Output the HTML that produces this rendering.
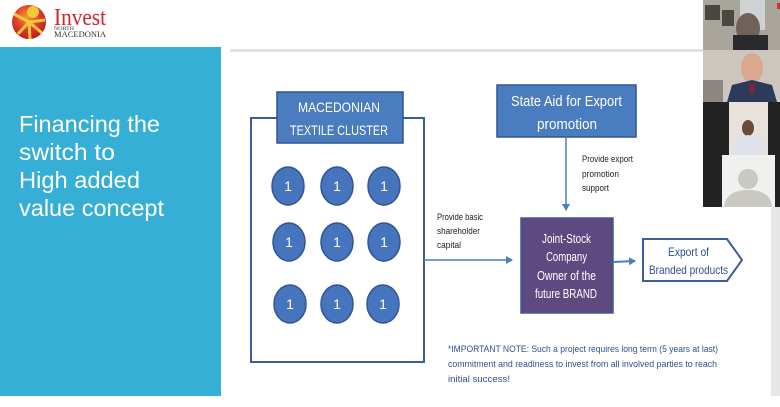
<!DOCTYPE html>
<html><head><meta charset="utf-8"><style>
html,body{margin:0;padding:0;}
body{width:780px;height:407px;position:relative;overflow:hidden;background:#fff;font-family:"Liberation Sans",sans-serif;}
.abs{position:absolute;}
</style></head><body>
<svg class="abs" style="left:0;top:0" width="780" height="407" viewBox="0 0 780 407">
  <defs>
    <radialGradient id="ball" cx="0.45" cy="0.35" r="0.7">
      <stop offset="0" stop-color="#f0a030"/>
      <stop offset="0.5" stop-color="#e0402a"/>
      <stop offset="1" stop-color="#b5171e"/>
    </radialGradient>
    <marker id="ah" markerWidth="8" markerHeight="8" refX="6" refY="4" orient="auto" markerUnits="userSpaceOnUse">
      <path d="M0,0 L7,4 L0,8 z" fill="#4a7cc0"/>
    </marker>
  </defs>
  <!-- logo -->
  <circle cx="29" cy="22" r="17" fill="url(#ball)"/>
  <path d="M29,22 L14,14 M29,22 L18,34 M29,22 L30,39 M29,22 L42,33 M29,22 L45,20" stroke="#f5c542" stroke-width="3"/>
  <circle cx="33" cy="12" r="6" fill="#f3c93a"/>
  <text x="54" y="25" font-family="Liberation Serif,serif" font-size="24" fill="#d2232a" textLength="52" lengthAdjust="spacingAndGlyphs">Invest</text>
  <text x="54" y="30" font-family="Liberation Serif,serif" font-size="5.5" fill="#333" textLength="20" lengthAdjust="spacingAndGlyphs">NORTH</text>
  <text x="54" y="37" font-family="Liberation Serif,serif" font-size="8" fill="#333" textLength="52" lengthAdjust="spacingAndGlyphs">MACEDONIA</text>

  <!-- left blue panel -->
  <rect x="0" y="47" width="221" height="349" fill="#36afd6"/>
  <g font-family="Liberation Sans,sans-serif" font-size="23" fill="#fff">
    <text x="19" y="132" textLength="141" lengthAdjust="spacingAndGlyphs">Financing the</text>
    <text x="19" y="160" textLength="96" lengthAdjust="spacingAndGlyphs">switch to</text>
    <text x="19" y="188" textLength="121" lengthAdjust="spacingAndGlyphs">High added</text>
    <text x="19" y="216" textLength="145" lengthAdjust="spacingAndGlyphs">value concept</text>
  </g>

  <!-- top gray line -->
  <rect x="230" y="49" width="475" height="3" fill="#e2e2e2"/>

  <!-- cluster box -->
  <rect x="251" y="118" width="173" height="244" fill="#fff" stroke="#3e5e99" stroke-width="2"/>
  <rect x="277" y="92" width="126" height="51" fill="#4a7cc0" stroke="#2f5597" stroke-width="1.5"/>
  <g font-family="Liberation Sans,sans-serif" font-size="14" fill="#fff">
    <text x="298" y="112" textLength="82" lengthAdjust="spacingAndGlyphs">MACEDONIAN</text>
    <text x="290" y="135" textLength="98" lengthAdjust="spacingAndGlyphs">TEXTILE CLUSTER</text>
  </g>
  <!-- circles -->
  <g fill="#4674bd" stroke="#2f5597" stroke-width="1.5">
    <ellipse cx="288" cy="186" rx="16" ry="19"/><ellipse cx="337" cy="186" rx="16" ry="19"/><ellipse cx="384" cy="186" rx="16" ry="19"/>
    <ellipse cx="289" cy="242" rx="16" ry="19"/><ellipse cx="337" cy="242" rx="16" ry="19"/><ellipse cx="384" cy="242" rx="16" ry="19"/>
    <ellipse cx="290" cy="304" rx="16" ry="19"/><ellipse cx="337" cy="304" rx="16" ry="19"/><ellipse cx="383" cy="304" rx="16" ry="19"/>
  </g>
  <g font-family="Liberation Sans,sans-serif" font-size="14" fill="#fff" text-anchor="middle">
    <text x="288" y="191">1</text><text x="337" y="191">1</text><text x="384" y="191">1</text>
    <text x="289" y="247">1</text><text x="337" y="247">1</text><text x="384" y="247">1</text>
    <text x="290" y="309">1</text><text x="337" y="309">1</text><text x="383" y="309">1</text>
  </g>

  <!-- state aid box -->
  <rect x="497" y="85" width="139" height="52" fill="#4a7cc0" stroke="#2f5597" stroke-width="1.5"/>
  <g font-family="Liberation Sans,sans-serif" font-size="15" fill="#fff">
    <text x="511" y="106" textLength="111" lengthAdjust="spacingAndGlyphs">State Aid for Export</text>
    <text x="537" y="129" textLength="60" lengthAdjust="spacingAndGlyphs">promotion</text>
  </g>
  <line x1="566" y1="137" x2="566" y2="210" stroke="#4a7cc0" stroke-width="1.5" marker-end="url(#ah)"/>
  <g font-family="Liberation Sans,sans-serif" font-size="9" fill="#222">
    <text x="582" y="162" textLength="51" lengthAdjust="spacingAndGlyphs">Provide export</text>
    <text x="582" y="177" textLength="37" lengthAdjust="spacingAndGlyphs">promotion</text>
    <text x="582" y="191" textLength="27" lengthAdjust="spacingAndGlyphs">support</text>
  </g>

  <!-- shareholder arrow -->
  <line x1="424" y1="260" x2="512" y2="260" stroke="#4a7cc0" stroke-width="1.5" marker-end="url(#ah)"/>
  <g font-family="Liberation Sans,sans-serif" font-size="9" fill="#222">
    <text x="437" y="220" textLength="46" lengthAdjust="spacingAndGlyphs">Provide basic</text>
    <text x="437" y="234" textLength="43" lengthAdjust="spacingAndGlyphs">shareholder</text>
    <text x="437" y="248" textLength="24" lengthAdjust="spacingAndGlyphs">capital</text>
  </g>

  <!-- joint stock box -->
  <rect x="521" y="218" width="92" height="95" fill="#5e4a80" stroke="#3b5a9a" stroke-width="1.5"/>
  <g font-family="Liberation Sans,sans-serif" font-size="12.5" fill="#fff">
    <text x="542" y="243" textLength="49" lengthAdjust="spacingAndGlyphs">Joint-Stock</text>
    <text x="546" y="261" textLength="41" lengthAdjust="spacingAndGlyphs">Company</text>
    <text x="537" y="280" textLength="59" lengthAdjust="spacingAndGlyphs">Owner of the</text>
    <text x="535" y="298" textLength="62" lengthAdjust="spacingAndGlyphs">future BRAND</text>
  </g>
  <line x1="613" y1="262" x2="635" y2="261" stroke="#4a7cc0" stroke-width="2" marker-end="url(#ah)"/>

  <!-- export pentagon -->
  <path d="M643,239 L727,239 L742,260 L727,281 L643,281 Z" fill="#fff" stroke="#3e5e99" stroke-width="2"/>
  <g font-family="Liberation Sans,sans-serif" font-size="12" fill="#2f4f8f">
    <text x="668" y="256" textLength="41" lengthAdjust="spacingAndGlyphs">Export of</text>
    <text x="649" y="274" textLength="79" lengthAdjust="spacingAndGlyphs">Branded products</text>
  </g>

  <!-- note -->
  <g font-family="Liberation Sans,sans-serif" font-size="9.5" fill="#2f4f8f">
    <text x="448" y="352" textLength="270" lengthAdjust="spacingAndGlyphs">*IMPORTANT NOTE: Such a project requires long term (5 years at last)</text>
    <text x="448" y="367" textLength="269" lengthAdjust="spacingAndGlyphs">commitment and readiness to invest from all involved parties to reach</text>
    <text x="448" y="382" textLength="62" lengthAdjust="spacingAndGlyphs">initial success!</text>
  </g>

  <!-- right gray strip -->
  <rect x="771" y="207" width="9" height="189" fill="#e6e6e6"/>

  <!-- video tiles -->
  <rect x="703" y="0" width="77" height="50" fill="#a9a49c"/>
  <rect x="705" y="5" width="15" height="15" fill="#4a4640"/>
  <rect x="722" y="10" width="12" height="16" fill="#4a4640"/>
  <rect x="740" y="0" width="25" height="30" fill="#cfd3d4"/>
  <ellipse cx="748" cy="28" rx="12" ry="15" fill="#6e625a"/>
  <rect x="733" y="35" width="35" height="15" fill="#2a2a2c"/>
  <rect x="777" y="3" width="3" height="6" fill="#d03030"/>

  <rect x="703" y="50" width="77" height="52" fill="#cdc6bf"/>
  <rect x="703" y="80" width="20" height="22" fill="#8c8680"/>
  <ellipse cx="752" cy="68" rx="11" ry="15" fill="#d9a88f"/>
  <path d="M727,102 L732,85 L752,80 L772,85 L777,102 Z" fill="#2e3a5c"/>
  <path d="M748,84 L752,98 L756,84 Z" fill="#7a2a35"/>

  <rect x="703" y="102" width="77" height="105" fill="#222222"/>
  <rect x="729" y="102" width="39" height="53" fill="#e8e1dc"/>
  <ellipse cx="748" cy="128" rx="6" ry="8" fill="#6b4a3a"/>
  <path d="M730,155 L734,138 L748,135 L762,138 L767,155 Z" fill="#dfe2ea"/>
  <rect x="722" y="155" width="53" height="52" fill="#f0f0ee"/>
  <circle cx="748" cy="179" r="10" fill="#c9c9c2"/>
  <path d="M724,207 Q726,190 748,190 Q771,190 772,207 Z" fill="#c9c9c2"/>
</svg>
</body></html>
